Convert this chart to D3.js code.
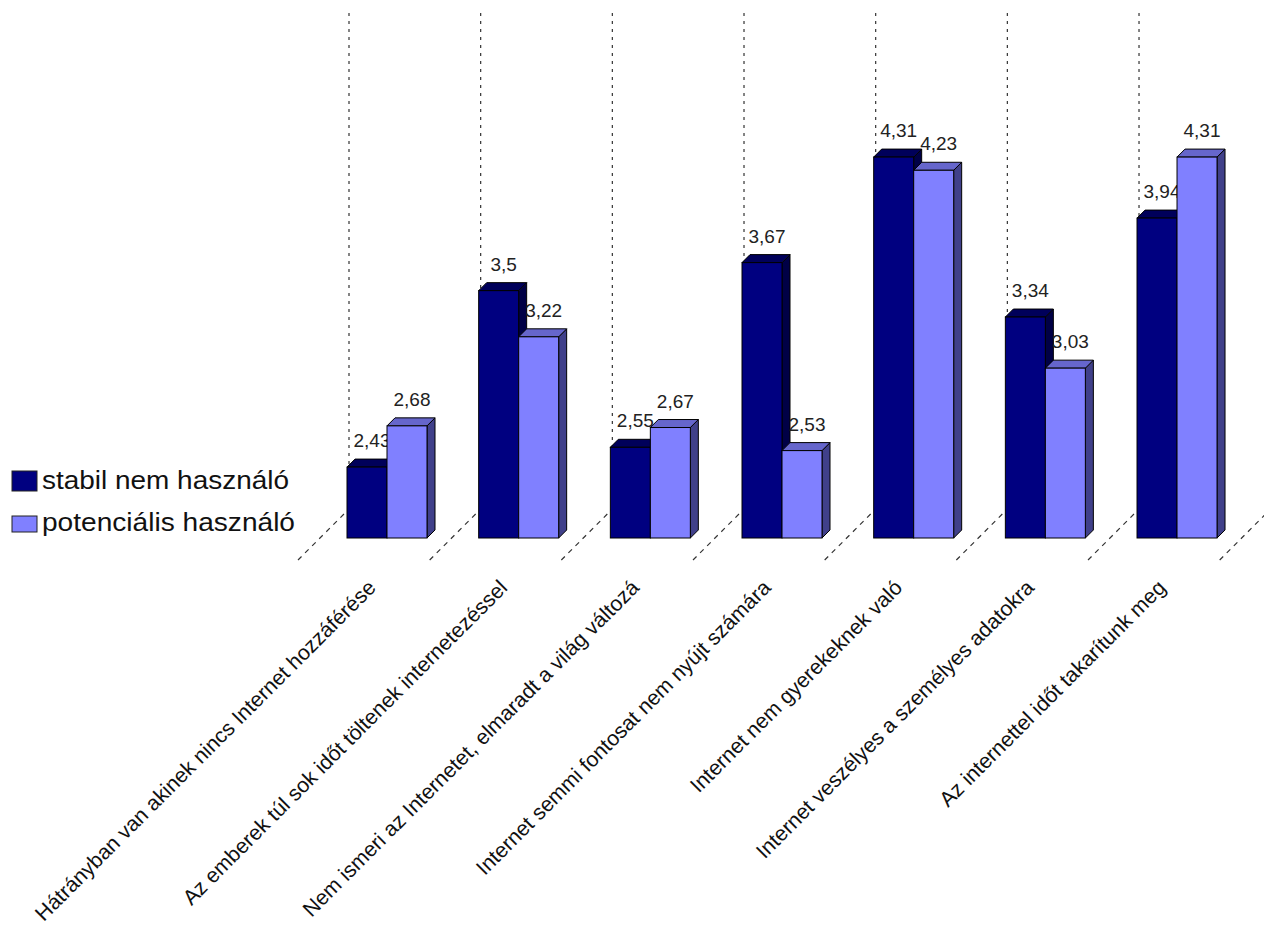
<!DOCTYPE html>
<html><head><meta charset="utf-8">
<script src="https://cdn.jsdelivr.net/npm/d3@7"></script>
<style>body{margin:0;background:#fff}svg{display:block}</style>
</head><body>
<script>
const categories = [
  "Hátrányban van akinek nincs Internet hozzáférése",
  "Az emberek túl sok időt töltenek internetezéssel",
  "Nem ismeri az Internetet, elmaradt a világ változá",
  "Internet semmi fontosat nem nyújt számára",
  "Internet nem gyerekeknek való",
  "Internet veszélyes a személyes adatokra",
  "Az internettel időt takarítunk meg"
];
const seriesNames = ["stabil nem használó", "potenciális használó"];
const stabil = [2.43, 3.5, 2.55, 3.67, 4.31, 3.34, 3.94];
const potencialis = [2.68, 3.22, 2.67, 2.53, 4.23, 3.03, 4.31];
const seriesValues = [stabil, potencialis];

const W = 1264, H = 929;
const font = "'Liberation Sans', Arial, sans-serif";
const svg = d3.select("body").append("svg").attr("width", W).attr("height", H);

const step = 131.67;
const x = d3.scaleBand().domain(categories).range([349, 349 + step * categories.length]).padding(0);
const xs = d3.scaleBand().domain(seriesNames).range([-2, 78]).padding(0);
const y = d3.scaleLinear().domain([2, 5]).range([538, 538 - 3 * 164.9]);
const depth = 8, floorDepth = 51;

const colors = [
  {front: "#000080", top: "#00005a", side: "#000046"},
  {front: "#8080ff", top: "#6666cc", side: "#40408a"}
];

// boundaries (gridlines)
const bounds = categories.map(c => x(c)).concat([x.range()[1]]);
const g0 = svg.append("g");
bounds.forEach(bx => {
  g0.append("line").attr("x1", bx).attr("x2", bx).attr("y1", 13).attr("y2", y(2) - floorDepth + 22)
    .attr("stroke", "#333").attr("stroke-width", 1.2).attr("stroke-dasharray", "3,5");
  g0.append("line").attr("x1", bx - floorDepth).attr("y1", y(2) + 22).attr("x2", bx).attr("y2", y(2) + 22 - floorDepth)
    .attr("stroke", "#333").attr("stroke-width", 1.2).attr("stroke-dasharray", "5,5");
});

const fmt = v => String(v).replace(".", ",");

function drawBar(g, x0, w, v, col) {
  const yt = y(v), yb = y(2);
  g.append("path").attr("d", `M${x0+w},${yb}L${x0+w+depth},${yb-depth}L${x0+w+depth},${yt-depth}L${x0+w},${yt}Z`)
    .attr("fill", col.side).attr("stroke", "#000").attr("stroke-width", 1).attr("stroke-linejoin", "round");
  g.append("path").attr("d", `M${x0},${yt}L${x0+depth},${yt-depth}L${x0+w+depth},${yt-depth}L${x0+w},${yt}Z`)
    .attr("fill", col.top).attr("stroke", "#000").attr("stroke-width", 1).attr("stroke-linejoin", "round");
  g.append("rect").attr("x", x0).attr("y", yt).attr("width", w).attr("height", yb - yt)
    .attr("fill", col.front).attr("stroke", "#000").attr("stroke-width", 1);
}

const gb = svg.append("g");
seriesNames.forEach((s, si) => {
  categories.forEach((c, i) => {
    const g = gb.append("g");
    const x0 = x(c) + xs(s), w = xs.bandwidth();
    drawBar(g, x0, w, seriesValues[si][i], colors[si]);
    g.append("text").attr("x", x0 + w / 2 + 5).attr("y", y(seriesValues[si][i]) - 20)
      .attr("text-anchor", "middle").attr("font-family", font).attr("font-size", 19)
      .attr("fill", "#222").text(fmt(seriesValues[si][i]));
  });
});

// category labels
categories.forEach(c => {
  const ax = x(c) + 28, ay = 589;
  svg.append("text").attr("transform", `translate(${ax},${ay}) rotate(-45)`)
    .attr("text-anchor", "end").attr("font-family", font).attr("font-size", 21.2)
    .attr("fill", "#111").text(c);
});

// legend
const leg = svg.append("g");
const legRects = [[12, 471, 25, 20], [12, 516, 25, 16]];
const legBase = [489, 531];
const legLen = [247, 253];
seriesNames.forEach((s, i) => {
  leg.append("rect").attr("x", legRects[i][0]).attr("y", legRects[i][1]).attr("width", legRects[i][2]).attr("height", legRects[i][3])
    .attr("fill", colors[i].front).attr("stroke", "#222").attr("stroke-width", 1);
  leg.append("text").attr("x", 42).attr("y", legBase[i]).attr("font-family", font).attr("font-size", 26)
    .attr("textLength", legLen[i]).attr("lengthAdjust", "spacingAndGlyphs")
    .attr("fill", "#111").text(s);
});
</script>
</body></html>
